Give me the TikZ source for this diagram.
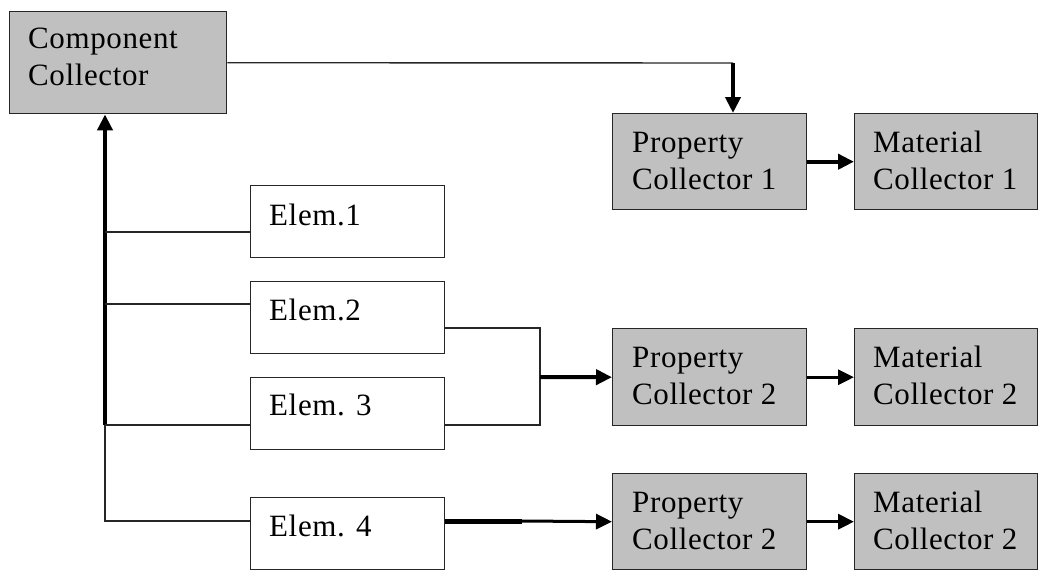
\documentclass[tikz,border=0pt]{standalone}
\usepackage{fontspec}
\setmainfont{Liberation Serif}[LetterSpace=2]
\usetikzlibrary{arrows.meta,calc}
\definecolor{boxgray}{HTML}{C0C0C0}
\begin{document}
\begin{tikzpicture}[x=1pt,y=-1pt,
  wbox/.style={draw=black!85, line width=1.4pt, fill=white, anchor=north west, inner sep=0pt},
  gbox/.style={wbox, fill=boxgray},
  lbl/.style={anchor=base west, align=left, inner sep=0pt, font=\fontsize{31}{37}\selectfont},
  thinline/.style={draw=black!85, line width=1.4pt},
  fatline/.style={draw=black, line width=4pt},
  arr/.style={-{Triangle[length=16pt,width=15pt]}},
]
\useasboundingbox (0,0) rectangle (1039,571);
% boxes
\node[gbox, minimum width=217pt, minimum height=102pt] (cc) at (9,11) {};
\node[gbox, minimum width=194pt, minimum height=96pt] (pc1) at (612,113) {};
\node[gbox, minimum width=183pt, minimum height=96pt] (mc1) at (854,113) {};
\node[gbox, minimum width=194pt, minimum height=97pt] (pc2) at (612,328) {};
\node[gbox, minimum width=183pt, minimum height=97pt] (mc2) at (854,328) {};
\node[gbox, minimum width=194pt, minimum height=96pt] (pc3) at (612,473) {};
\node[gbox, minimum width=183pt, minimum height=96pt] (mc3) at (854,473) {};
\node[wbox, minimum width=194pt, minimum height=72pt] (e1) at (250,185) {};
\node[wbox, minimum width=194pt, minimum height=72pt] (e2) at (250,281) {};
\node[wbox, minimum width=194pt, minimum height=72pt] (e3) at (250,377) {};
\node[wbox, minimum width=194pt, minimum height=72pt] (e4) at (250,497) {};
% texts (base anchor = baseline of last line)
\node[lbl] (cct) at (28,85) {Component\\Collector};
\node[lbl] (pc1t) at (632,189) {Property\\Collector 1};
\node[lbl] (mc1t) at (873,189) {Material\\Collector 1};
\node[lbl] (pc2t) at (632,404) {Property\\Collector 2};
\node[lbl] (mc2t) at (873,404) {Material\\Collector 2};
\node[lbl] (pc3t) at (632,549) {Property\\Collector 2};
\node[lbl] (mc3t) at (873,549) {Material\\Collector 2};
\node[lbl] (e1t) at (269,225) {Elem.1};
\node[lbl] (e2t) at (269,320) {Elem.2};
\node[lbl] (e3t) at (269,415) {Elem. 3};
\node[lbl] (e4t) at (269,536) {Elem. 4};
% coordinates
\coordinate (topc) at (733,63);
\coordinate (busb) at (105,425);
\coordinate (bus4) at (105,521);
\coordinate (m2) at (540,328);
\coordinate (m3) at (540,425);
\coordinate (mm) at (540,377);
\coordinate (e4k) at (522,521);
% connectors
\draw[thinline] (cc.east) -- (topc);
\draw[fatline, arr] (topc) -- (topc |- pc1.north);
\draw[fatline, arr] (pc1.east) -- (mc1.west);
\draw[fatline, arr] (busb) -- (busb |- cc.south);
\draw[thinline] (busb) -- (bus4) -- (e4.west |- bus4);
\draw[thinline] (busb |- 0,232) -- (e1.west |- 0,232);
\draw[thinline] (busb |- 0,304) -- (e2.west |- 0,304);
\draw[thinline] (busb) -- (e3.west |- busb);
\draw[thinline] (e2.east |- m2) -- (m2) -- (m3) -- (e3.east |- m3);
\draw[fatline, arr] (mm) -- (pc2.west);
\draw[fatline, line width=3pt, arr] (pc2.east) -- (mc2.west);
\draw[fatline, line width=5pt] (e4.east |- e4k) -- (e4k);
\draw[fatline, line width=3pt, arr] (e4k) -- (pc3.west);
\draw[fatline, line width=3.5pt, arr] (pc3.east) -- (mc3.west);
\end{tikzpicture}
\end{document}
